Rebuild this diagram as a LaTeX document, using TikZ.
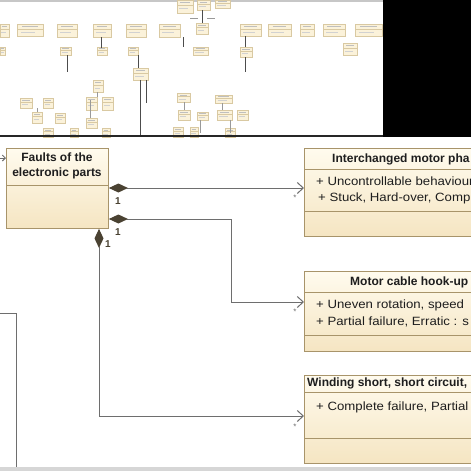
\documentclass[tikz,border=0pt]{standalone}
\usepackage{fontspec}
\setmainfont{Liberation Sans}
\newfontfamily\attrfont[FakeStretch=1.1]{Liberation Sans}
\usetikzlibrary{arrows.meta,calc}
\definecolor{boxtop}{HTML}{FFFBEE}
\definecolor{boxbot}{HTML}{F5E5C2}
\definecolor{boxline}{HTML}{A8946A}
\definecolor{connc}{HTML}{6E6E6E}
\definecolor{diamc}{HTML}{4A4232}
\definecolor{txt}{HTML}{1E1E1E}
\definecolor{thfill}{HTML}{FBF2DA}
\definecolor{thline}{HTML}{D9C9A2}
\begin{document}
\begin{tikzpicture}[x=1pt,y=-1pt,
  umlbox/.style={draw=boxline, line width=0.9pt, top color=boxtop, bottom color=boxbot, anchor=north west, inner sep=0pt, rectangle},
  divline/.style={draw=boxline, line width=0.9pt},
  conn/.style={draw=connc, line width=1pt},
  comp/.style={{Diamond[length=19pt,width=9pt,color=diamc,fill=diamc]}-{Straight Barb[length=6pt,width=11pt,line width=1pt]}},
  head/.style={font=\fontsize{12}{15.5}\selectfont\bfseries, text=txt, anchor=west, inner sep=0pt},
  attr/.style={font=\attrfont\fontsize{12}{14}\selectfont, text=txt, anchor=west, inner sep=0pt},
  mult/.style={font=\fontsize{10}{11}\selectfont\bfseries, text=diamc, inner sep=0pt},
  star/.style={font=\fontsize{8}{9}\selectfont, text=connc, inner sep=0pt},
  thbox/.style={draw=thline, fill=thfill, line width=0.5pt},
  thdiv/.style={draw=thline, line width=0.4pt},
  thconn/.style={draw=black!70, line width=1pt},
  thlight/.style={draw=black!40, line width=0.6pt}]
\clip (0,0) rectangle (471,471);
\fill[white] (0,0) rectangle (471,471);

% ---------- thumbnail overview ----------
\fill[black!22] (0,0) rectangle (383,2);
\foreach \a/\b/\c/\d in {177/0/193/13, 197/0/210/10, 215/0/230/8,
  0/24/9/37, 17/24/43/36, 57/24/77/37, 93/24/111/37, 126/24/146/37, 159/24/180/37, 196/23/208/34,
  240/24/261/36, 268/24/291/36, 300/24/314/36, 323/24/345/36, 355/24/382/36,
  0/47/5/55, 60/47/71/55, 97/47/107/55, 128/47/138/55, 193/47/208/55, 240/47/252/57, 343/43/357/55,
  133/68/148/80, 93/80/103/92,
  20/98/32/108, 43/98/53/108, 86/97/97/110, 102/97/113/110, 177/93/190/102, 215/95/232/103,
  32/112/42/123, 55/113/65/123, 86/118/97/128, 178/110/190/120, 217/110/232/120, 237/110/248/120, 197/112/208/120,
  43/128/53/137, 70/128/78/137, 102/128/110/137, 173/127/183/137, 190/127/198/137, 225/128/235/137}
{
  \draw[thbox] (\a,\b) rectangle (\c,\d);
  \draw[thdiv] (\a,{\b+0.4*(\d-\b)}) -- (\c,{\b+0.4*(\d-\b)});
  \draw[black!25, line width=0.5pt] ({\a+0.2*(\c-\a)},{\b+0.2*(\d-\b)}) -- ({\c-0.2*(\c-\a)},{\b+0.2*(\d-\b)});
  \draw[black!18, line width=0.5pt] ({\a+0.15*(\c-\a)},{\b+0.65*(\d-\b)}) -- ({\c-0.3*(\c-\a)},{\b+0.65*(\d-\b)});
}
\draw[thconn] (101,37) -- (101,48);
\draw[thconn] (67,55) -- (67,72);
\draw[thconn] (138,55) -- (138,68);
\draw[thconn] (140,80) -- (140,135);
\draw[thconn] (146,80) -- (146,103);
\draw[thconn] (183,37) -- (183,47);
\draw[thconn] (245,36) -- (245,47);
\draw[thconn] (245,57) -- (245,72);
\draw[thconn] (202,10) -- (202,23);
\draw[thlight] (184,102) -- (184,110);
\draw[thlight] (222,103) -- (222,110);
\draw[thlight] (200,120) -- (200,133);
\draw[thlight] (230,120) -- (230,133);
\draw[thlight] (90,100) -- (90,118);
\draw[thlight] (190,18) -- (198,18);
\draw[thlight] (207,18) -- (215,18);
\draw[thlight] (97,92) -- (97,97);
\draw[thlight] (37,108) -- (37,112);
\fill[black] (383,0) rectangle (471,137);
\fill[black!85] (0,135) rectangle (383,137);

% ---------- main diagram ----------
\node[umlbox, minimum width=102pt, minimum height=80pt] (faults) at (6,148) {};
\draw[divline] ($(faults.north west)+(0,37)$) -- ($(faults.north east)+(0,37)$);
\node[head, anchor=center, align=center] (fhead) at (57,166) {Faults of the\\electronic parts};

\node[umlbox, minimum width=330pt, minimum height=88pt] (inter) at (304,148) {};
\draw[divline] ($(inter.north west)+(0,21)$) -- ($(inter.north east)+(0,21)$);
\draw[divline] ($(inter.north west)+(0,63)$) -- ($(inter.north east)+(0,63)$);
\node[head] (ihead) at (332,159) {Interchanged motor pha};
\node[attr] (ia1) at (316,181) {+ Uncontrollable behaviour};
\node[attr] (ia2) at (318,198) {+ Stuck, Hard-over, Comp};

\node[umlbox, minimum width=330pt, minimum height=80pt] (motor) at (304,271) {};
\draw[divline] ($(motor.north west)+(0,21)$) -- ($(motor.north east)+(0,21)$);
\draw[divline] ($(motor.north west)+(0,64)$) -- ($(motor.north east)+(0,64)$);
\node[head] (mhead) at (350,282) {Motor cable hook-up};
\node[attr] (ma1) at (316,305) {+ Uneven rotation, speed};
\node[attr] (ma2) at (316,322) {+ Partial failure, Erratic : s};

\node[umlbox, minimum width=330pt, minimum height=88pt] (wind) at (304,375) {};
\draw[divline] ($(wind.north west)+(0,17)$) -- ($(wind.north east)+(0,17)$);
\draw[divline] ($(wind.north west)+(0,63)$) -- ($(wind.north east)+(0,63)$);
\node[head] (whead) at (307,383) {Winding short, short circuit,};
\node[attr] (wa1) at (316,407) {+ Complete failure, Partial};

% connectors
\coordinate (y1) at (0,188);
\draw[conn, comp] (faults.east |- y1) -- (inter.west |- y1);
\coordinate (b2) at (231,219);
\coordinate (b2b) at (231,302);
\draw[conn, comp] (faults.east |- b2) -- (b2) -- (b2b) -- (motor.west |- b2b);
\coordinate (b3) at (99,416);
\draw[conn, comp] (faults.south -| b3) -- (b3) -- (wind.west |- b3);

\node[mult] (m1) at (118,201) {1};
\node[mult] (m2) at (118,232) {1};
\node[mult] (m3) at (108,244) {1};
\node[star] (s1) at (295,198) {*};
\node[star] (s2) at (295,312) {*};
\node[star] (s3) at (295,427) {*};

% left stubs
\coordinate (la) at (-4,158);
\draw[conn, -{Straight Barb[length=3pt,width=6pt]}] (la) -- (faults.west |- la);
\coordinate (l1) at (-2,313);
\coordinate (l2) at (16,313);
\coordinate (l3) at (16,480);
\draw[conn] (l1) -- (l2) -- (l3);

\fill[black!16] (0,467) rectangle (471,471);
\end{tikzpicture}
\end{document}
